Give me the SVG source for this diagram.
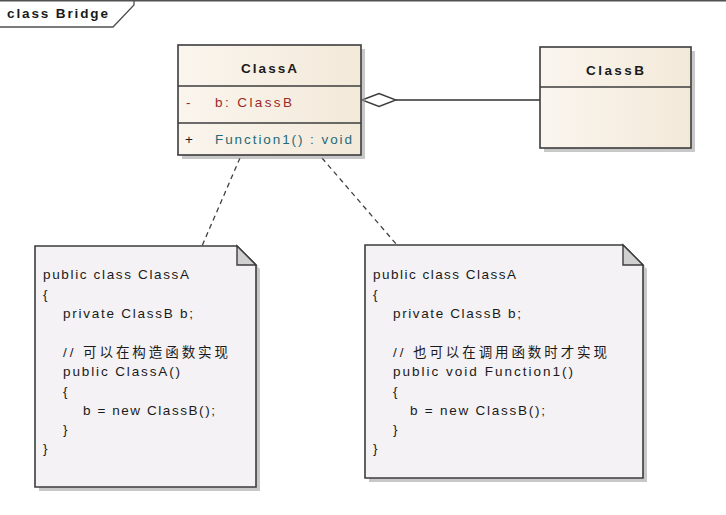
<svg xmlns="http://www.w3.org/2000/svg" width="726" height="515" viewBox="0 0 726 515">
<defs>
<linearGradient id="cls" x1="0" y1="0" x2="1" y2="0">
<stop offset="0" stop-color="#FAF5EE"/>
<stop offset="1" stop-color="#F3E9D9"/>
</linearGradient>
<style>
.t{font-family:"Liberation Sans",Arial,"Noto Sans CJK SC",sans-serif;font-size:13.5px;fill:#1A1A1A}
.b{font-weight:bold;font-size:13.5px}
.box{fill:url(#cls);stroke:#3C3C3C;stroke-width:1.6}
.sh{fill:#9A9A9A;opacity:0.55}
.div{stroke:#3C3C3C;stroke-width:1.4}
.note{fill:#F4F2F5;stroke:#3C3C3C;stroke-width:1.6}
.fold{fill:#D0D0D0;stroke:#3C3C3C;stroke-width:1.4;stroke-linejoin:miter}
.dash{stroke:#404040;stroke-width:1.3;stroke-dasharray:5 4;fill:none}
.attr{fill:#9A2A2A}
.op{fill:#256A78}
</style>
</defs>
<rect width="726" height="515" fill="#FFFFFF"/>
<g id="frame">
<line x1="0" y1="0.8" x2="726" y2="0.8" stroke="#505050" stroke-width="1.5"/>
<path d="M0,27 L113,27 L134,5 L134,0.8" fill="none" stroke="#505050" stroke-width="1.3"/>
<text class="t b" x="7" y="18" textLength="101" lengthAdjust="spacing">class Bridge</text>
</g>
<g id="connectors">
<line class="dash" x1="240" y1="158" x2="202" y2="246"/>
<line class="dash" x1="322" y1="158" x2="397" y2="245"/>
<line x1="396" y1="100" x2="540" y2="100" stroke="#303030" stroke-width="1.4"/>
<polygon points="362,100 379,93.5 396,100 379,106.5" fill="#FFFFFF" stroke="#3C3C3C" stroke-width="1.4"/>
</g>
<g id="ClassA">
<rect class="sh" x="182" y="49" width="183" height="110"/>
<rect class="box" x="178" y="45" width="183" height="110"/>
<line class="div" x1="178" y1="86" x2="361" y2="86"/>
<line class="div" x1="178" y1="123" x2="361" y2="123"/>
<text class="t b" x="241" y="73" textLength="56" lengthAdjust="spacing">ClassA</text>
<text class="t attr" x="186" y="106.5">-</text>
<text class="t attr" x="215" y="106.5" textLength="77" lengthAdjust="spacing">b: ClassB</text>
<text class="t" x="185" y="144">+</text>
<text class="t op" x="215" y="144" textLength="137" lengthAdjust="spacing">Function1() : void</text>
</g>
<g id="ClassB">
<rect class="sh" x="544" y="51" width="151" height="101"/>
<rect class="box" x="540" y="47" width="151" height="101"/>
<line class="div" x1="540" y1="87" x2="691" y2="87"/>
<text class="t b" x="586" y="75" textLength="58" lengthAdjust="spacing">ClassB</text>
</g>
<g id="note1">
<path class="sh" d="M39,250 L241,250 L260,269 L260,491 L39,491 Z"/>
<path class="note" d="M35,246 L237,246 L256,265 L256,487 L35,487 Z"/>
<path class="fold" d="M237,246 L237,265 L256,265 Z"/>
<text class="t" x="43" y="278.5" textLength="146" lengthAdjust="spacing">public class ClassA</text>
<text class="t" x="43" y="298.5">{</text>
<text class="t" x="63" y="317.5" textLength="130" lengthAdjust="spacing">private ClassB b;</text>
<text class="t" x="63" y="356.5" textLength="165" lengthAdjust="spacing">// 可以在构造函数实现</text>
<text class="t" x="63" y="375.5" textLength="117" lengthAdjust="spacing">public ClassA()</text>
<text class="t" x="63" y="395.5">{</text>
<text class="t" x="83" y="414.5" textLength="132" lengthAdjust="spacing">b = new ClassB();</text>
<text class="t" x="63" y="433.5">}</text>
<text class="t" x="43" y="452.5">}</text>
</g>
<g id="note2">
<path class="sh" d="M369,249 L627,249 L647,269 L647,482 L369,482 Z"/>
<path class="note" d="M365,245 L623,245 L643,265 L643,478 L365,478 Z"/>
<path class="fold" d="M623,245 L623,265 L643,265 Z"/>
<text class="t" x="373" y="278.5" textLength="143" lengthAdjust="spacing">public class ClassA</text>
<text class="t" x="373" y="298.5">{</text>
<text class="t" x="393" y="317.5" textLength="128" lengthAdjust="spacing">private ClassB b;</text>
<text class="t" x="393" y="356.5" textLength="214" lengthAdjust="spacing">// 也可以在调用函数时才实现</text>
<text class="t" x="393" y="375.5" textLength="180" lengthAdjust="spacing">public void Function1()</text>
<text class="t" x="393" y="395.5">{</text>
<text class="t" x="410" y="414.5" textLength="135" lengthAdjust="spacing">b = new ClassB();</text>
<text class="t" x="393" y="433.5">}</text>
<text class="t" x="373" y="452.5">}</text>
</g>
</svg>
